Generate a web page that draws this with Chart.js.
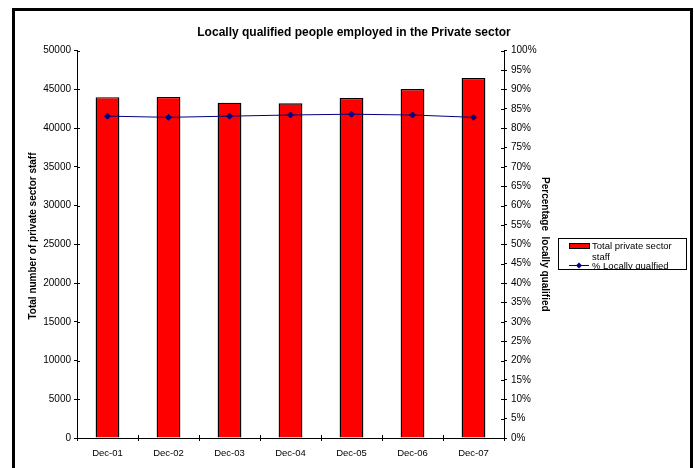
<!DOCTYPE html>
<html>
<head>
<meta charset="utf-8">
<script src="https://cdn.jsdelivr.net/npm/chart.js@4"></script>
<style>
  html, body { margin: 0; padding: 0; background: #fff; overflow: hidden; }
  #wrap { position: relative; width: 694px; height: 468px; }
  #frame { position: absolute; left: 12px; top: 8px; width: 675px; height: 480px; border: 3px solid #000; pointer-events: none; }
</style>
</head>
<body>
<div id="wrap">
  <canvas id="chart" width="694" height="468"></canvas>
  <div id="frame"></div>
</div>
<script>
// --- data ---
const months = ['Dec-01', 'Dec-02', 'Dec-03', 'Dec-04', 'Dec-05', 'Dec-06', 'Dec-07'];
const staffTotal = [44000, 44030, 43290, 43210, 43890, 45050, 46470];
const pctLocal = [83.1, 82.8, 83.1, 83.4, 83.6, 83.4, 82.8];

const FONT = '"Liberation Sans", Arial, sans-serif';

// ticks in the reference cross the axis line, Chart.js only draws the outer half
const crossTicks = {
  id: 'crossTicks',
  afterDraw(chart) {
    const ctx = chart.ctx;
    const { x, y, y1 } = chart.scales;
    ctx.save();
    ctx.strokeStyle = '#000';
    ctx.lineWidth = 1;
    ctx.beginPath();
    y.ticks.forEach((t, i) => {
      const py = Math.round(y.getPixelForTick(i)) + 0.5;
      ctx.moveTo(y.right, py); ctx.lineTo(y.right + 3, py);
    });
    y1.ticks.forEach((t, i) => {
      const py = Math.round(y1.getPixelForTick(i)) + 0.5;
      ctx.moveTo(y1.left - 3, py); ctx.lineTo(y1.left, py);
    });
    const step = x.getPixelForValue(1) - x.getPixelForValue(0);
    for (let i = 0; i <= months.length; i++) {
      const px = Math.round(x.getPixelForValue(0) - step / 2 + i * step) + 0.5;
      ctx.moveTo(px, x.top - 3); ctx.lineTo(px, x.top);
    }
    ctx.stroke();
    ctx.restore();
  }
};

// Excel-like legend box sitting over the right axis title
const boxLegend = {
  id: 'boxLegend',
  afterDraw(chart) {
    const ctx = chart.ctx;
    const bx = 558, by = 238, bw = 128, bh = 31;
    const bars = chart.data.datasets.find(d => d.type === 'bar');
    const line = chart.data.datasets.find(d => d.type === 'line');
    ctx.save();
    ctx.fillStyle = '#fff';
    ctx.fillRect(bx, by, bw, bh);
    ctx.beginPath();
    ctx.rect(bx, by, bw, bh);
    ctx.clip();
    ctx.font = '9.5px ' + FONT;
    ctx.textBaseline = 'middle';
    // bar item
    ctx.fillStyle = bars.backgroundColor;
    ctx.fillRect(569.5, 243.5, 20, 5);
    ctx.strokeStyle = '#000';
    ctx.lineWidth = 1;
    ctx.strokeRect(569.5, 243.5, 20, 5);
    ctx.fillStyle = '#000';
    ctx.fillText('Total private sector', 592, 246.5);
    ctx.fillText('staff', 592, 257);
    // line item
    ctx.strokeStyle = line.borderColor;
    ctx.beginPath();
    ctx.moveTo(569, 265.5); ctx.lineTo(589, 265.5);
    ctx.stroke();
    ctx.fillStyle = line.pointBackgroundColor;
    ctx.beginPath();
    ctx.moveTo(579, 262.5); ctx.lineTo(582, 265.5); ctx.lineTo(579, 268.5); ctx.lineTo(576, 265.5);
    ctx.closePath(); ctx.fill();
    ctx.fillStyle = '#000';
    ctx.fillText(line.label, 592, 266.5);
    ctx.restore();
    ctx.save();
    ctx.strokeStyle = '#000';
    ctx.lineWidth = 1;
    ctx.strokeRect(bx + 0.5, by + 0.5, bw, bh);
    ctx.restore();
  }
};

new Chart(document.getElementById('chart'), {
  type: 'bar',
  data: {
    labels: months,
    datasets: [
      {
        type: 'line', label: '% Locally qualfied', data: pctLocal, yAxisID: 'y1',
        borderColor: '#000080', borderWidth: 1, backgroundColor: '#000080',
        pointBackgroundColor: '#000080', pointBorderColor: '#000080',
        pointStyle: 'rectRot', pointRadius: 3, tension: 0, order: 0
      },
      {
        type: 'bar', label: 'Total private sector staff', data: staffTotal, yAxisID: 'y',
        backgroundColor: '#ff0000', borderColor: '#000', borderWidth: 1.4,
        barPercentage: 0.39, categoryPercentage: 1, order: 1
      }
    ]
  },
  options: {
    responsive: false, animation: false,
    layout: { padding: { left: 14, right: 0, top: 0, bottom: 0 } },
    plugins: {
      legend: { display: false },
      tooltip: { enabled: false },
      title: {
        display: true, text: 'Locally qualified people employed in the Private sector',
        color: '#000', font: { family: FONT, size: 12, weight: 'bold' },
        padding: { top: 25.8, bottom: 10.5 }
      }
    },
    scales: {
      x: {
        grid: { display: true, drawOnChartArea: false, color: '#000', tickLength: 3, offset: true },
        border: { color: '#000' },
        ticks: { color: '#000', font: { family: FONT, size: 9.5 }, padding: 7, maxRotation: 0 },
        afterFit: s => { s.height = 30; }
      },
      y: {
        position: 'left', min: 0, max: 50000,
        grid: { drawOnChartArea: false, color: '#000', tickLength: 3 },
        border: { color: '#000' },
        ticks: { stepSize: 5000, color: '#000', font: { family: FONT, size: 10 }, padding: 3, callback: v => String(v) },
        title: { display: true, text: '      Total number of private sector staff', color: '#000',
                 font: { family: FONT, size: 10, weight: 'bold' }, padding: { top: 13, bottom: 0 } },
        afterFit: s => { s.width = 63; }
      },
      y1: {
        position: 'right', min: 0, max: 100,
        grid: { drawOnChartArea: false, color: '#000', tickLength: 3 },
        border: { color: '#000' },
        ticks: { stepSize: 5, color: '#000', font: { family: FONT, size: 10 }, padding: 4, callback: v => v + '%' },
        title: { display: true, text: 'Percentage  locally qualified', color: '#000',
                 font: { family: FONT, size: 10, weight: 'bold' }, padding: { top: 143, bottom: 0 } },
        afterFit: s => { s.width = 190; }
      }
    }
  },
  plugins: [crossTicks, boxLegend]
});
</script>
</body>
</html>
